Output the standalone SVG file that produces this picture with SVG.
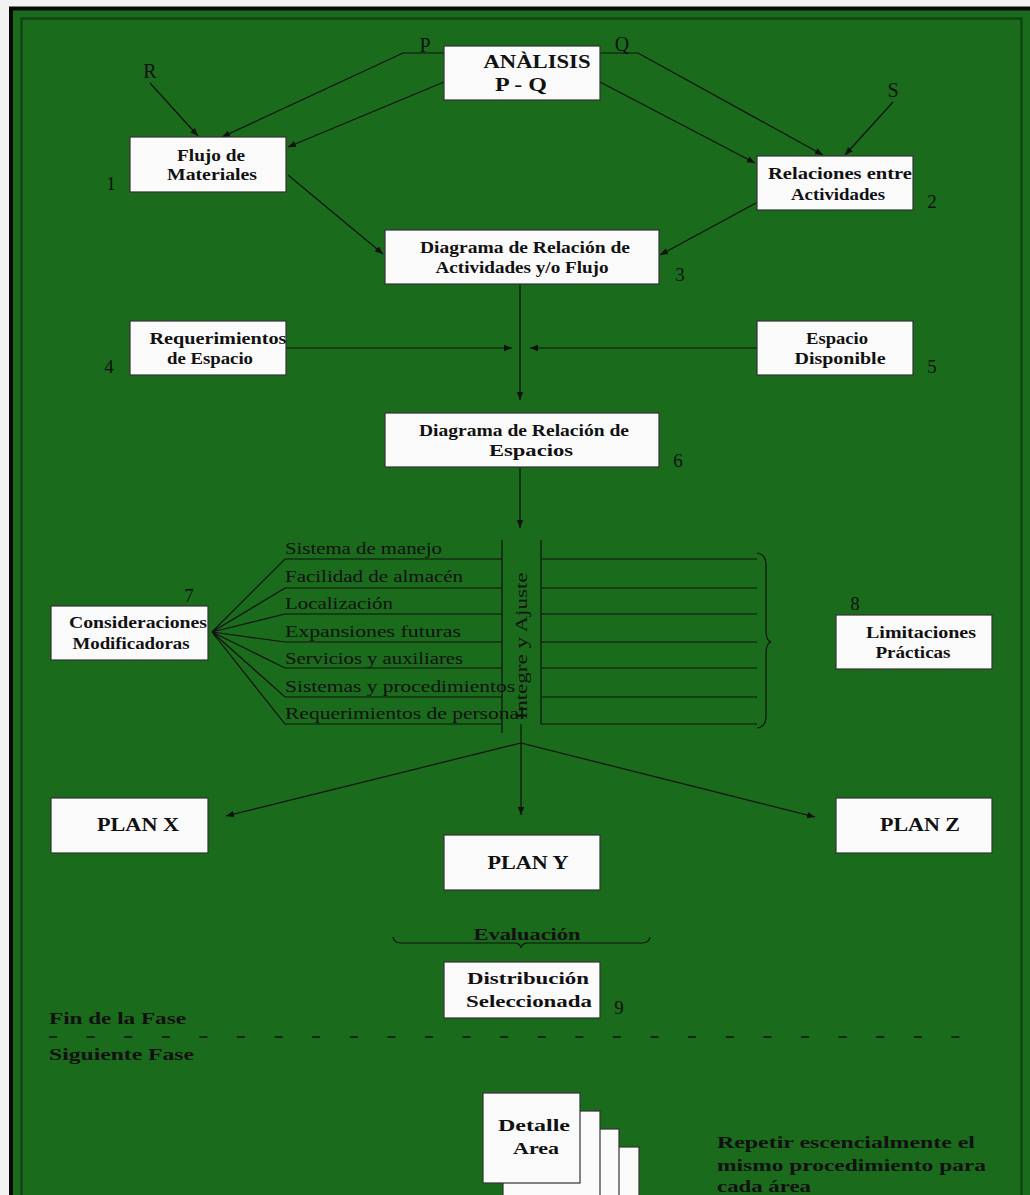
<svg xmlns="http://www.w3.org/2000/svg" width="1030" height="1195" viewBox="0 0 1030 1195">
<style>
.box{fill:#fafafa;stroke:#333;stroke-width:1.2}
.bt{font-family:"Liberation Serif",serif;font-weight:bold;font-size:16px;fill:#111;text-anchor:middle}
.bs{font-family:"Liberation Serif",serif;font-weight:bold;font-size:17px;fill:#111;text-anchor:start}
.big{font-family:"Liberation Serif",serif;font-weight:bold;font-size:19px;fill:#111;text-anchor:middle}
.num{font-family:"Liberation Serif",serif;font-size:19px;fill:#111;text-anchor:middle}
.pq{font-family:"Liberation Serif",serif;font-size:20px;fill:#111;text-anchor:middle}
.lt{font-family:"Liberation Serif",serif;font-size:16px;fill:#111}
.ln{fill:none;stroke:#111;stroke-width:1.2}
.ar{fill:none;stroke:#111;stroke-width:1.2;marker-end:url(#ah)}
</style>
<defs>
<marker id="ah" viewBox="0 0 10 10" refX="10" refY="5" markerWidth="8" markerHeight="8" markerUnits="userSpaceOnUse" orient="auto"><path d="M0,1 L10,5 L0,9 z" fill="#111"/></marker>
</defs>
<rect x="0" y="0" width="1030" height="1195" fill="#f2f2f2"/>
<rect x="11" y="8.5" width="1040" height="1200" fill="#1b6b1c" stroke="#050805" stroke-width="4"/>
<rect x="21.5" y="18.5" width="1000" height="1200" fill="none" stroke="#0f4510" stroke-width="2.5"/>

<g id="connectors">
<path class="ar" d="M444,53 H403 L222,137"/>
<path class="ar" d="M444,82 L288,147"/>
<path class="ar" d="M150,83 L198,136"/>
<path class="ar" d="M600,53 H638 L823,155"/>
<path class="ar" d="M600,82 L755,163"/>
<path class="ar" d="M893,102 L845,155"/>
<path class="ar" d="M288,175 L383,254"/>
<path class="ar" d="M756,203 L660,255"/>
<path class="ar" d="M520,284 V400"/>
<path class="ar" d="M286,348 H512"/>
<path class="ar" d="M757,348 H530"/>
<path class="ar" d="M520,467 V528"/>
<path class="ln" d="M502,540 V733 M541,540 V724"/>
<path class="ln" d="M212,632 L285,559 H502 M212,632 L285,588 H502 M212,632 L285,614 H502 M212,632 L285,642 H502 M212,632 L285,668 H502 M212,632 L285,697 H502 M212,632 L285,724 H502"/>
<path class="ln" d="M541,559 H757 M541,588 H757 M541,614 H757 M541,642 H757 M541,668 H757 M541,697 H757 M541,724 H757"/>
<path class="ln" d="M757,553 Q766,554 766,566 V630 Q766,641 771,642 Q766,643 766,654 V716 Q766,727 757,728"/>
<path class="ar" d="M521,724 V815"/>
<path class="ar" d="M521,743 L226,816"/>
<path class="ar" d="M521,743 L815,817"/>
<path class="ln" d="M393,937 Q394,943 401,943 H514 Q520,943 521,948 Q522,943 528,943 H642 Q649,943 650,937"/>
<path d="M49,1037 H966" fill="none" stroke="#111" stroke-width="1.5" stroke-dasharray="8 29.6"/>
</g>

<g id="analisis">
<rect class="box" x="444" y="46" width="156" height="54"/>
<text class="big" x="537" y="68" textLength="107" lengthAdjust="spacingAndGlyphs">ANÀLISIS</text>
<text class="big" x="521" y="91" textLength="52" lengthAdjust="spacingAndGlyphs">P - Q</text>
</g>
<g id="lbl-pqrs">
<text class="pq" x="425" y="52">P</text>
<text class="pq" x="622" y="51">Q</text>
<text class="pq" x="150" y="78">R</text>
<text class="pq" x="893" y="97">S</text>
</g>

<g id="flujo">
<rect class="box" x="130" y="137" width="156" height="55"/>
<text class="bt" x="211" y="161" textLength="68" lengthAdjust="spacingAndGlyphs">Flujo de</text>
<text class="bt" x="212" y="180" textLength="90" lengthAdjust="spacingAndGlyphs">Materiales</text>
<text class="num" x="111" y="190">1</text>
</g>

<g id="relaciones">
<rect class="box" x="757" y="156" width="156" height="54"/>
<text class="bt" x="840" y="179" textLength="144" lengthAdjust="spacingAndGlyphs">Relaciones entre</text>
<text class="bt" x="838" y="200" textLength="94" lengthAdjust="spacingAndGlyphs">Actividades</text>
<text class="num" x="932" y="208">2</text>
</g>

<g id="dra">
<rect class="box" x="385" y="230" width="274" height="54"/>
<text class="bt" x="525" y="253" textLength="210" lengthAdjust="spacingAndGlyphs">Diagrama de Relación de</text>
<text class="bt" x="522" y="273" textLength="173" lengthAdjust="spacingAndGlyphs">Actividades y/o Flujo</text>
<text class="num" x="680" y="281">3</text>
</g>

<g id="requerimientos">
<rect class="box" x="130" y="321" width="156" height="54"/>
<text class="bt" x="218" y="344" textLength="137" lengthAdjust="spacingAndGlyphs">Requerimientos</text>
<text class="bt" x="210" y="364" textLength="86" lengthAdjust="spacingAndGlyphs">de Espacio</text>
<text class="num" x="109" y="373">4</text>
</g>

<g id="espacio">
<rect class="box" x="757" y="321" width="156" height="54"/>
<text class="bt" x="837" y="344" textLength="62" lengthAdjust="spacingAndGlyphs">Espacio</text>
<text class="bt" x="840" y="364" textLength="91" lengthAdjust="spacingAndGlyphs">Disponible</text>
<text class="num" x="932" y="373">5</text>
</g>

<g id="dre">
<rect class="box" x="385" y="413" width="274" height="54"/>
<text class="bt" x="524" y="436" textLength="210" lengthAdjust="spacingAndGlyphs">Diagrama de Relación de</text>
<text class="bt" x="531" y="456" textLength="84" lengthAdjust="spacingAndGlyphs">Espacios</text>
<text class="num" x="678" y="467">6</text>
</g>

<g id="consideraciones">
<rect class="box" x="51" y="606" width="157" height="54"/>
<text class="bt" x="138" y="628" textLength="138" lengthAdjust="spacingAndGlyphs">Consideraciones</text>
<text class="bt" x="131" y="649" textLength="117" lengthAdjust="spacingAndGlyphs">Modificadoras</text>
<text class="num" x="189" y="602">7</text>
</g>

<g id="lista">
<text class="lt" x="285" y="554" textLength="157" lengthAdjust="spacingAndGlyphs">Sistema de manejo</text>
<text class="lt" x="285" y="582" textLength="178" lengthAdjust="spacingAndGlyphs">Facilidad de almacén</text>
<text class="lt" x="285" y="609" textLength="108" lengthAdjust="spacingAndGlyphs">Localización</text>
<text class="lt" x="285" y="637" textLength="176" lengthAdjust="spacingAndGlyphs">Expansiones futuras</text>
<text class="lt" x="285" y="664" textLength="178" lengthAdjust="spacingAndGlyphs">Servicios y auxiliares</text>
<text class="lt" x="285" y="692" textLength="230" lengthAdjust="spacingAndGlyphs">Sistemas y procedimientos</text>
<text class="lt" x="285" y="719" textLength="240" lengthAdjust="spacingAndGlyphs">Requerimientos de personal</text>
</g>

<g id="integre">
<text class="lt" x="527" y="646" text-anchor="middle" transform="rotate(-90 527 646)" textLength="147" lengthAdjust="spacingAndGlyphs">Integre y Ajuste</text>
</g>

<g id="limitaciones">
<rect class="box" x="836" y="615" width="156" height="54"/>
<text class="bt" x="921" y="638" textLength="110" lengthAdjust="spacingAndGlyphs">Limitaciones</text>
<text class="bt" x="913" y="658" textLength="75" lengthAdjust="spacingAndGlyphs">Prácticas</text>
<text class="num" x="855" y="610">8</text>
</g>

<g id="planx">
<rect class="box" x="51" y="798" width="157" height="55"/>
<text class="big" x="138" y="831" textLength="82" lengthAdjust="spacingAndGlyphs">PLAN X</text>
</g>
<g id="plany">
<rect class="box" x="444" y="835" width="156" height="55"/>
<text class="big" x="528" y="869" textLength="81" lengthAdjust="spacingAndGlyphs">PLAN Y</text>
</g>
<g id="planz">
<rect class="box" x="836" y="798" width="156" height="55"/>
<text class="big" x="920" y="831" textLength="80" lengthAdjust="spacingAndGlyphs">PLAN Z</text>
</g>

<g id="evaluacion">
<text class="bt" x="527" y="940" textLength="107" lengthAdjust="spacingAndGlyphs">Evaluación</text>
</g>

<g id="distribucion">
<rect class="box" x="444" y="962" width="156" height="56"/>
<text class="bt" x="528" y="984" textLength="122" lengthAdjust="spacingAndGlyphs">Distribución</text>
<text class="bt" x="529" y="1007" textLength="126" lengthAdjust="spacingAndGlyphs">Seleccionada</text>
<text class="num" x="619" y="1014">9</text>
</g>

<g id="fases">
<text class="bs" x="49" y="1024" textLength="137" lengthAdjust="spacingAndGlyphs">Fin de la Fase</text>
<text class="bs" x="49" y="1060" textLength="145" lengthAdjust="spacingAndGlyphs">Siguiente Fase</text>
</g>

<g id="detalle">
<rect class="box" x="542" y="1147" width="97" height="90"/>
<rect class="box" x="522" y="1129" width="97" height="90"/>
<rect class="box" x="503" y="1111" width="97" height="90"/>
<rect class="box" x="483" y="1093" width="97" height="90"/>
<text class="bt" x="534" y="1131" textLength="72" lengthAdjust="spacingAndGlyphs">Detalle</text>
<text class="bt" x="536" y="1154" textLength="46" lengthAdjust="spacingAndGlyphs">Area</text>
</g>

<g id="nota">
<text class="bs" x="717" y="1148" textLength="258" lengthAdjust="spacingAndGlyphs">Repetir escencialmente el</text>
<text class="bs" x="717" y="1171" textLength="269" lengthAdjust="spacingAndGlyphs">mismo procedimiento para</text>
<text class="bs" x="717" y="1192" textLength="94" lengthAdjust="spacingAndGlyphs">cada área</text>
</g>
</svg>
